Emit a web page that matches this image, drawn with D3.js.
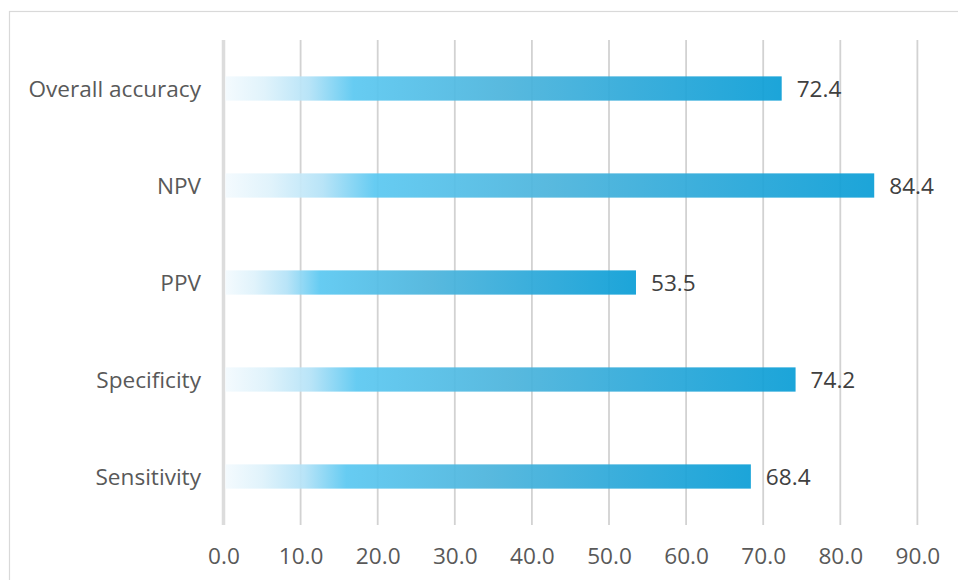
<!DOCTYPE html>
<html>
<head>
<meta charset="utf-8">
<script src="https://cdn.jsdelivr.net/npm/d3@7"></script>
<style>
  html, body { margin: 0; padding: 0; background: #ffffff; }
  svg { display: block; }
  text { font-family: "Open Sans", sans-serif; }
</style>
</head>
<body>
<svg id="chart" width="958" height="580"></svg>
<script>
// Data
const categories = ["Overall accuracy", "NPV", "PPV", "Specificity", "Sensitivity"];
const values = [72.4, 84.4, 53.5, 74.2, 68.4];
const tickValues = [0, 10, 20, 30, 40, 50, 60, 70, 80, 90];

const W = 958, H = 580;
const FS = 22.6;
const svg = d3.select("#chart");

// outer border of chart area
svg.append("rect")
  .attr("x", 9.5).attr("y", 11.5)
  .attr("width", 1200).attr("height", 1200)
  .attr("fill", "none").attr("stroke", "#d9d9d9").attr("stroke-width", 1.2);

const plot = { left: 223.5, right: 917.4, top: 40, bottom: 525 };

const x = d3.scaleLinear().domain([0, 90]).range([plot.left, plot.right]);
const y = d3.scaleBand().domain(categories).range([plot.top, plot.bottom])
  .paddingInner(0.75).paddingOuter(0.375);

// gradient
const defs = svg.append("defs");
const grad = defs.append("linearGradient").attr("id", "barGrad")
  .attr("x1", "0%").attr("x2", "100%").attr("y1", "0%").attr("y2", "0%");
[
  [0, "#f3fafe"],
  [0.07, "#def2fb"],
  [0.15, "#b3e2f7"],
  [0.23, "#5bc8f1"],
  [0.5, "#4cb4dc"],
  [0.75, "#2ba8d9"],
  [1, "#0b9ed6"]
].forEach(([o, c]) => grad.append("stop").attr("offset", o).attr("stop-color", c));

// gridlines
svg.append("g").selectAll("line")
  .data(tickValues.filter(d => d > 0))
  .join("line")
  .attr("x1", d => x(d)).attr("x2", d => x(d))
  .attr("y1", plot.top).attr("y2", plot.bottom)
  .attr("stroke", "#d2d2d2").attr("stroke-width", 1.8);

// vertical axis line at 0
svg.append("line")
  .attr("x1", x(0)).attr("x2", x(0))
  .attr("y1", plot.top).attr("y2", plot.bottom)
  .attr("stroke", "#dcdcdc").attr("stroke-width", 3.5);

// bars
svg.append("g").selectAll("rect")
  .data(categories.map((c, i) => ({ c, v: values[i] })))
  .join("rect")
  .attr("x", x(0) + 2)
  .attr("y", d => y(d.c))
  .attr("width", d => x(d.v) - x(0) - 2)
  .attr("height", y.bandwidth())
  .attr("fill", "url(#barGrad)")
  .attr("opacity", 0.93);

// value labels
svg.append("g").selectAll("text")
  .data(categories.map((c, i) => ({ c, v: values[i] })))
  .join("text")
  .attr("x", d => x(d.v) + 15)
  .attr("y", d => y(d.c) + y.bandwidth() / 2)
  .attr("dy", "0.36em")
  .attr("font-size", FS)
  .attr("fill", "#404040")
  .text(d => d3.format(".1f")(d.v));

// category axis labels
const yAxis = d3.axisLeft(y).tickSize(0).tickPadding(0);
const gy = svg.append("g").attr("transform", `translate(201,0)`).call(yAxis);
gy.select(".domain").remove();
gy.selectAll("text")
  .attr("font-family", "'Open Sans', sans-serif")
  .attr("font-size", FS)
  .attr("fill", "#595959")
  .attr("dy", "0.36em");

// x axis tick labels
const xAxis = d3.axisBottom(x).tickValues(tickValues).tickFormat(d3.format(".1f")).tickSize(0).tickPadding(0);
const gx = svg.append("g").attr("transform", `translate(0,556)`).call(xAxis);
gx.select(".domain").remove();
gx.selectAll("text")
  .attr("font-family", "'Open Sans', sans-serif")
  .attr("font-size", FS)
  .attr("fill", "#595959")
  .attr("y", 0)
  .attr("dy", "0.36em");
</script>
</body>
</html>
